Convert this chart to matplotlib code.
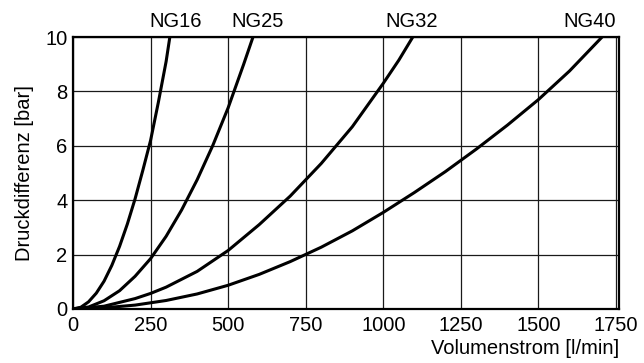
import matplotlib
matplotlib.use("Agg")
import matplotlib.pyplot as plt

plt.rcParams['font.family'] = ['Liberation Sans', 'DejaVu Sans']

# values (flow l/min, pressure diff bar)
ng16_q = [0, 25, 50, 75, 100, 125, 150, 175, 200, 225, 250, 275, 300, 312]
ng16_p = [0, 0.06, 0.26, 0.58, 1.02, 1.6, 2.3, 3.12, 4.05, 5.1, 6.2, 7.6, 9.1, 10]

ng25_q = [0, 50, 100, 150, 200, 250, 300, 350, 400, 450, 500, 550, 580]
ng25_p = [0, 0.07, 0.3, 0.67, 1.2, 1.85, 2.67, 3.64, 4.75, 6.0, 7.4, 9.0, 10]

ng32_q = [0, 100, 200, 250, 300, 400, 500, 600, 700, 800, 900, 950, 1000, 1050, 1095]
ng32_p = [0, 0.1, 0.38, 0.57, 0.8, 1.38, 2.15, 3.1, 4.15, 5.35, 6.7, 7.5, 8.3, 9.15, 10]

ng40_q = [0, 100, 200, 300, 400, 500, 600, 700, 800, 900, 1000, 1100, 1200, 1300,
          1400, 1500, 1600, 1705]
ng40_p = [0, 0.04, 0.14, 0.31, 0.55, 0.87, 1.27, 1.74, 2.27, 2.87, 3.55, 4.28, 5.05, 5.88,
          6.76, 7.7, 8.75, 10]

labels = ['NG16', 'NG25', 'NG32', 'NG40']
label_x = [330, 595, 1090, 1665]

x_ticks = [0, 250, 500, 750, 1000, 1250, 1500, 1750]
y_ticks = [0, 2, 4, 6, 8, 10]

fig = plt.figure(figsize=(6.44, 3.63), dpi=100)
ax = fig.add_axes([0.1134, 0.149, 0.848, 0.749])

for q, p in [(ng16_q, ng16_p), (ng25_q, ng25_p), (ng32_q, ng32_p), (ng40_q, ng40_p)]:
    ax.plot(q, p, color='black', lw=2.2, solid_capstyle='butt', zorder=3)

for lab, lx in zip(labels, label_x):
    ax.text(lx, 10.22, lab, ha='center', va='bottom', fontsize=14.5)

ax.set_xlim(0, 1760)
ax.set_ylim(0, 10)
ax.set_xticks(x_ticks)
ax.set_yticks(y_ticks)
ax.tick_params(axis='x', length=0, labelsize=14.5, pad=5)
ax.tick_params(axis='y', length=0, labelsize=14.5, pad=4)
ax.grid(True, color='#1a1a1a', lw=0.9)
for s in ax.spines.values():
    s.set_linewidth(1.6)

ax.set_ylabel('Druckdifferenz [bar]', fontsize=14.5, labelpad=8)
ax.set_xlabel('Volumenstrom [l/min]', fontsize=14.5, loc='right', labelpad=3)

fig.savefig('out.png', dpi=100)
